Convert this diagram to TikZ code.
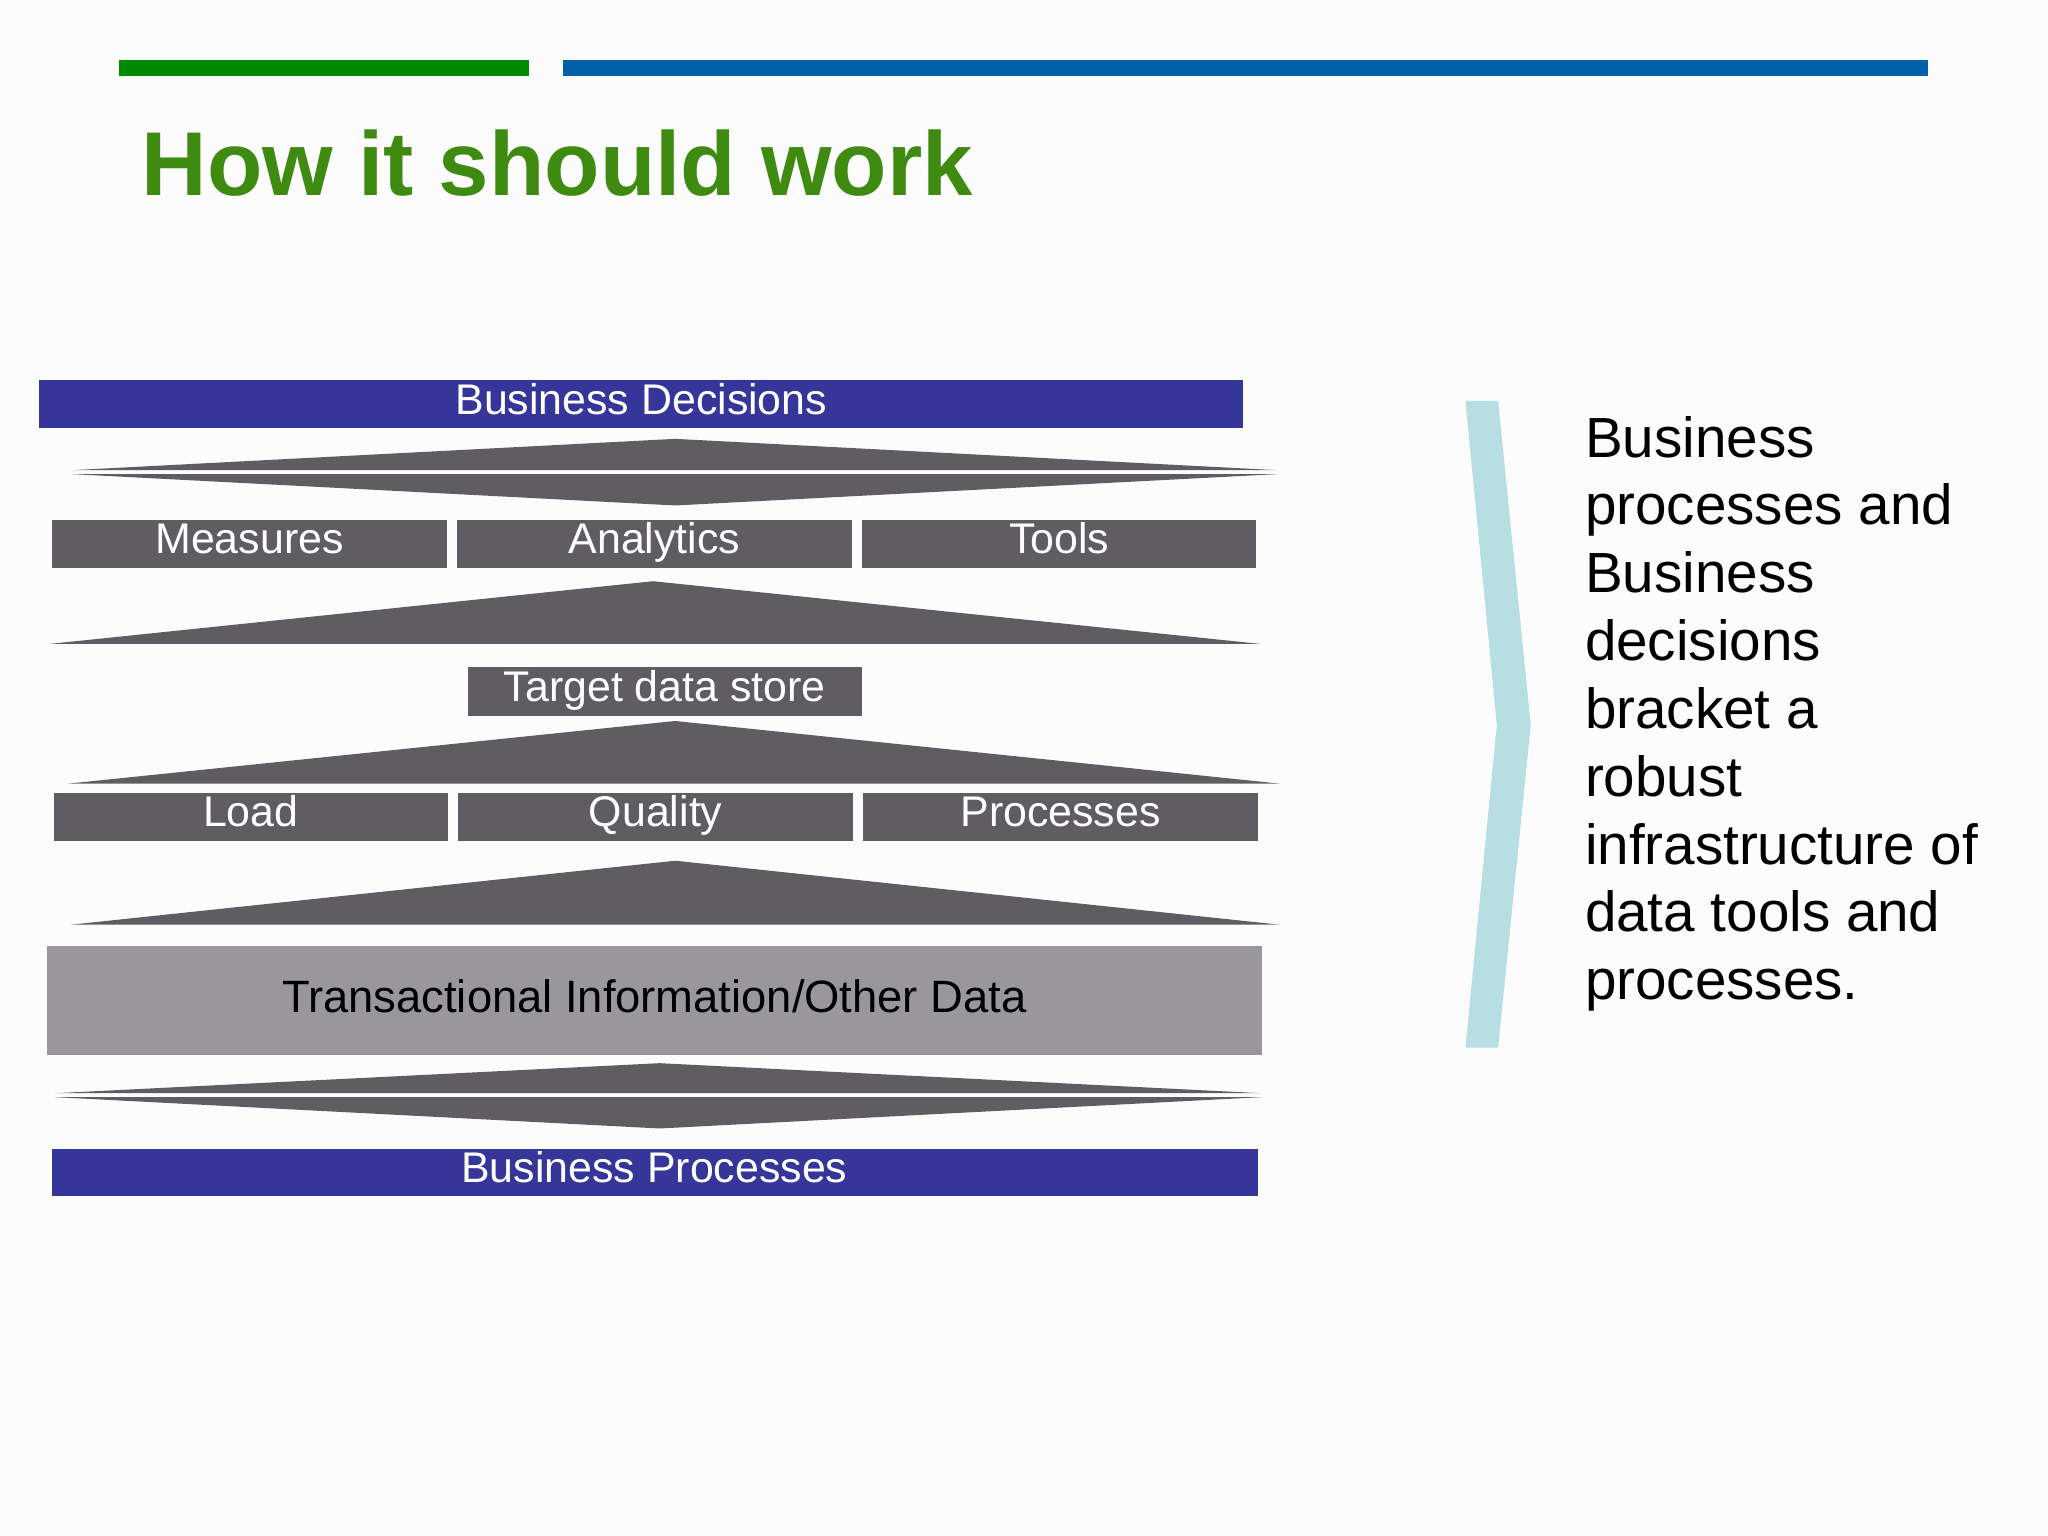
\documentclass[tikz,border=0pt]{standalone}
\usepackage{fontspec}
\setmainfont{Liberation Sans}
\begin{document}
\begin{tikzpicture}[x=0.013061cm,y=-0.013061cm,
  bar/.style={fill=barblue,draw=none},
  gbox/.style={fill=dgray,draw=none},
  lbl/.style={text=white,font=\fontsize{12.2}{14}\selectfont,inner sep=0,text height=1.5ex,text depth=0.5ex},
  tri/.style={fill=dgray,draw=none}]
\definecolor{barblue}{HTML}{36369A}
\definecolor{dgray}{HTML}{5F5D62}
\definecolor{lgray}{HTML}{99979B}
\definecolor{tgreen}{HTML}{3F8A10}
\definecolor{lgreen}{HTML}{008A00}
\definecolor{lblue}{HTML}{0060A8}
\definecolor{chev}{HTML}{B7DFE3}
\fill[white!98!gray] (0,0) rectangle (1568,1176);
\useasboundingbox (0,0) rectangle (1568,1176);
\fill[lgreen] (91,46) rectangle (405,58);
\fill[lblue] (431,46) rectangle (1476,58);
\node[anchor=base west,text=tgreen,font=\bfseries\fontsize{25.8}{30}\selectfont,inner sep=0] (title) at (108,150) {How it should work};
% Business Decisions
\fill[bar] (30,291) rectangle (952,328);
\node[lbl] (bd) at (491,310) {Business Decisions};
\fill[tri] (55,360) -- (517,336) -- (978,360) -- cycle;
\fill[tri] (55,363) -- (978,363) -- (517,387) -- cycle;
% row 1
\fill[gbox] (40,398) rectangle (342,435);
\fill[gbox] (350,398) rectangle (652,435);
\fill[gbox] (660,398) rectangle (962,435);
\node[lbl] (m) at (191,417) {Measures};
\node[lbl] (a) at (501,417) {Analytics};
\node[lbl] (t) at (811,417) {Tools};
\fill[tri] (38,493) -- (500,445) -- (965,493) -- cycle;
\fill[gbox] (358,511) rectangle (660,548);
\node[lbl] (tds) at (509,530) {Target data store};
\fill[tri] (52,600) -- (517,552) -- (980,600) -- cycle;
% row 2
\fill[gbox] (41,607) rectangle (343,644);
\fill[gbox] (351,607) rectangle (653,644);
\fill[gbox] (661,607) rectangle (963,644);
\node[lbl] (l) at (192,626) {Load};
\node[lbl] (q) at (502,626) {Quality};
\node[lbl] (p) at (812,626) {Processes};
\fill[tri] (54,708) -- (517,659) -- (980,708) -- cycle;
\fill[lgray] (36,724) rectangle (966,808);
\node[inner sep=0,font=\fontsize{12.9}{15}\selectfont,text height=1.5ex,text depth=0.5ex] (tr) at (501,768) {Transactional Information/Other Data};
\fill[tri] (42,837) -- (505,814) -- (966,837) -- cycle;
\fill[tri] (42,840) -- (966,840) -- (505,864) -- cycle;
\fill[bar] (40,880) rectangle (963,916);
\node[lbl] (bp) at (501,898) {Business Processes};
% chevron
\fill[chev] (1122,307) -- (1147,307) -- (1172,555) -- (1147,802) -- (1122,802) -- (1146,555) -- cycle;
\node[anchor=north west,inner sep=0,align=left,font=\fontsize{16.1}{19.3}\selectfont] (txt) at (1213,318) {Business\\processes and\\Business\\decisions\\bracket a\\robust\\infrastructure of\\data tools and\\processes.};
\end{tikzpicture}
\end{document}
